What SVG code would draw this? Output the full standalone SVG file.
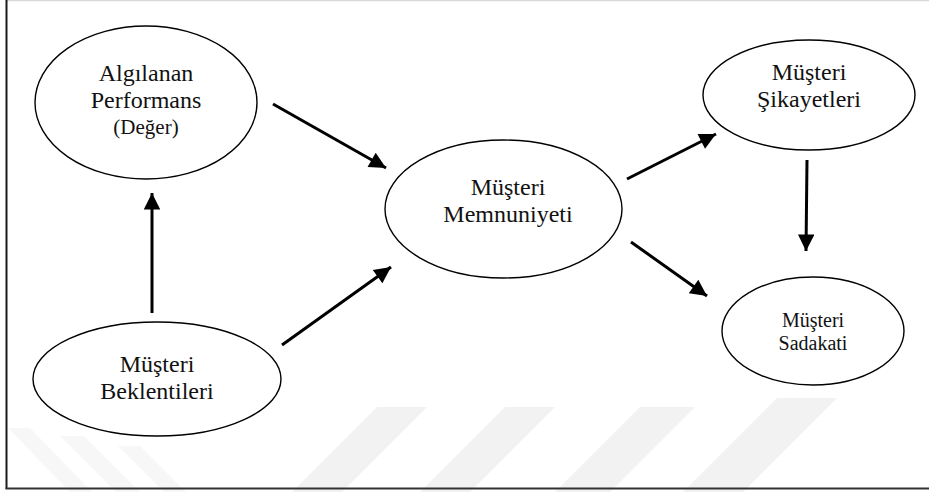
<svg xmlns="http://www.w3.org/2000/svg" width="929" height="492" viewBox="0 0 929 492">
  <style>
    .node ellipse { fill: #ffffff; stroke: #000000; stroke-width: 1.4; }
    .node text { font-family: 'Liberation Serif', 'Tinos', 'DejaVu Serif', 'Noto Serif', serif; font-size: 24px; fill: #111111; text-anchor: middle; }
    .node text.small { font-size: 21px; }
    .node text.mid { font-size: 20px; }
    .edge { stroke: #000000; stroke-width: 3; fill: none; marker-end: url(#head); }
    .mark { fill: #f2f2f2; }
  </style>
  <defs>
    <marker id="head" viewBox="0 0 10 10" refX="10" refY="5" markerWidth="6.5" markerHeight="5.5" markerUnits="strokeWidth" orient="auto">
      <path d="M0,0 L10,5 L0,10 Z" fill="#000000"/>
    </marker>
  </defs>

  <!-- page background -->
  <rect x="0" y="0" width="929" height="492" fill="#ffffff"/>

  <!-- faint background stripes -->
  <g id="watermark">
    <polygon class="mark" points="377,407 427,407 342,492 292,492"/>
    <polygon class="mark" points="505,407 555,407 470,492 420,492"/>
    <polygon class="mark" points="640,407 695,407 610,492 555,492"/>
    <polygon class="mark" points="777,398 837,398 743,492 683,492"/>
    <polygon class="mark" points="8,428 30,428 92,492 70,492" opacity="0.6"/>
    <polygon class="mark" points="60,436 84,436 140,492 116,492" opacity="0.6"/>
    <polygon class="mark" points="118,446 140,446 186,492 164,492" opacity="0.6"/>
  </g>

  <!-- frame -->
  <g id="frame">
    <line x1="7" y1="0.5" x2="929" y2="0.5" stroke="#d8d8d8" stroke-width="1.5"/>
    <line x1="6.5" y1="0" x2="6.5" y2="489" stroke="#1a1a1a" stroke-width="2"/>
    <line x1="5.5" y1="488.5" x2="929" y2="488.5" stroke="#333333" stroke-width="2"/>
  </g>

  <!-- connectors -->
  <g id="connectors">
    <line class="edge" x1="273" y1="104" x2="386" y2="168"/>
    <line class="edge" x1="282" y1="345" x2="391" y2="267"/>
    <line class="edge" x1="152" y1="313" x2="152" y2="193"/>
    <line class="edge" x1="627" y1="179" x2="716" y2="134"/>
    <line class="edge" x1="631" y1="242" x2="707" y2="296"/>
    <line class="edge" x1="807" y1="160" x2="806" y2="251"/>
  </g>

  <!-- nodes -->
  <g id="algilanan-performans" class="node">
    <ellipse cx="146" cy="102.5" rx="111" ry="76.5"/>
    <text x="146" y="81">Algılanan</text>
    <text x="146" y="108">Performans</text>
    <text class="small" x="146" y="134">(Değer)</text>
  </g>

  <g id="musteri-beklentileri" class="node">
    <ellipse cx="157" cy="379" rx="124" ry="57"/>
    <text x="157" y="372">Müşteri</text>
    <text x="157" y="399">Beklentileri</text>
  </g>

  <g id="musteri-memnuniyeti" class="node">
    <ellipse cx="503.5" cy="209" rx="118.5" ry="69"/>
    <text x="508" y="195">Müşteri</text>
    <text x="508" y="222">Memnuniyeti</text>
  </g>

  <g id="musteri-sikayetleri" class="node">
    <ellipse cx="809" cy="95" rx="106" ry="55"/>
    <text x="809" y="80">Müşteri</text>
    <text x="809" y="107">Şikayetleri</text>
  </g>

  <g id="musteri-sadakati" class="node">
    <ellipse cx="813" cy="331" rx="91" ry="54"/>
    <text class="mid" x="813" y="327">Müşteri</text>
    <text class="mid" x="813" y="350">Sadakati</text>
  </g>
</svg>
